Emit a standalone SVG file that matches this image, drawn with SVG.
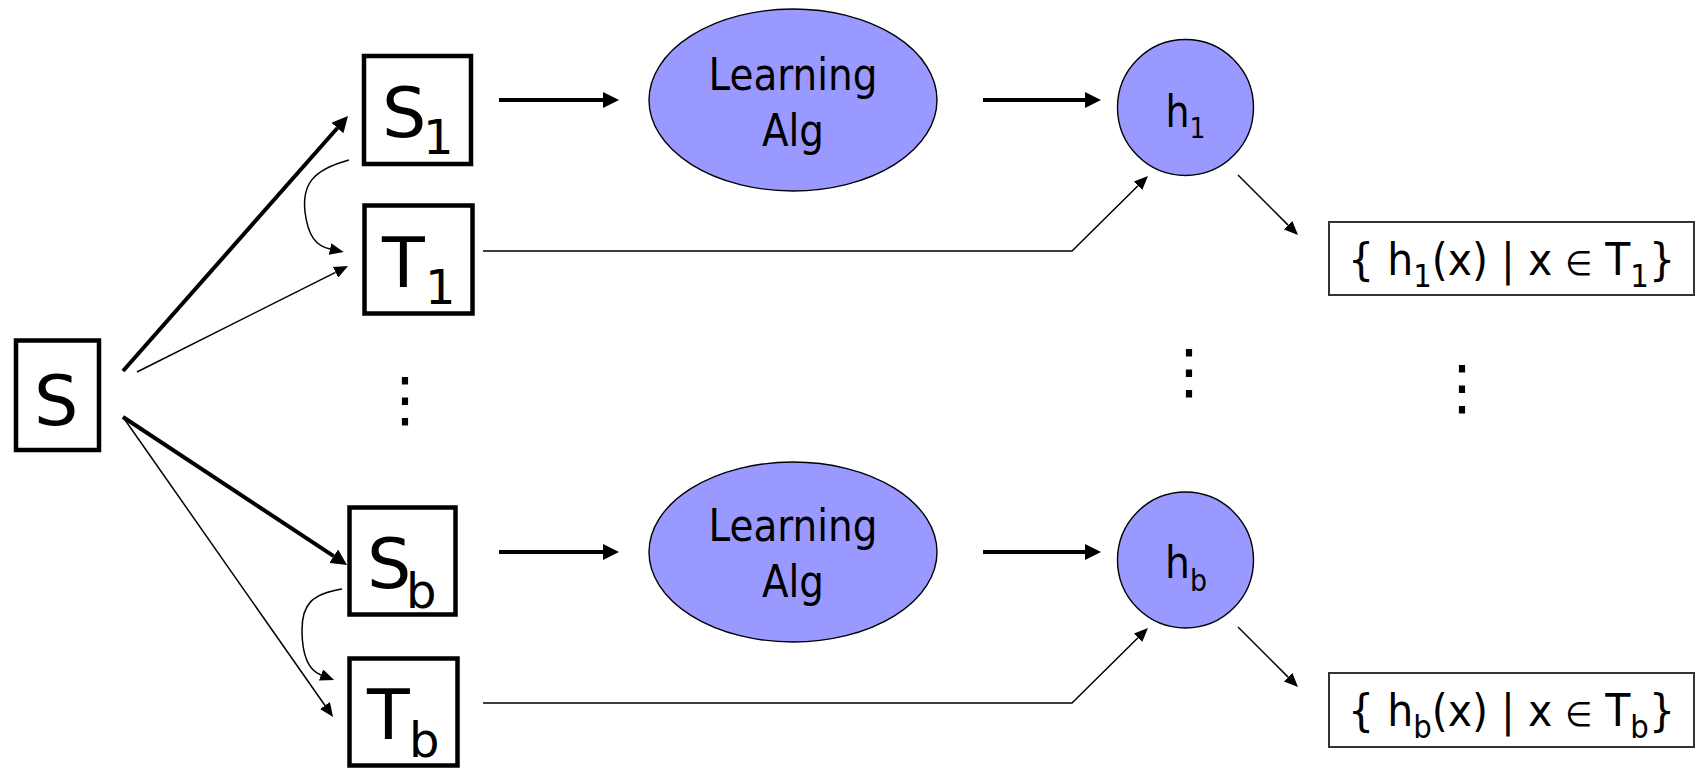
<svg xmlns="http://www.w3.org/2000/svg" width="1706" height="768" viewBox="0 0 1706 768">
<style>
  .box { fill: #fff; stroke: #000; stroke-width: 4.5; }
  .res { fill: #fff; stroke: #333; stroke-width: 2; }
  .blob { fill: #9999ff; stroke: #000; stroke-width: 1.4; }
  .big { font-family: "DejaVu Sans", "Liberation Sans", sans-serif; font-size: 70px; fill: #000; }
  .lbl { font-family: "DejaVu Sans", "Liberation Sans", sans-serif; font-size: 44px; fill: #000; }
  .res-t { font-family: "DejaVu Sans", "Liberation Sans", sans-serif; font-size: 45px; fill: #000; }
  .dots { font-family: "DejaVu Sans", "Liberation Sans", sans-serif; font-size: 60px; fill: #000; }
  .thick { fill: none; stroke: #000; stroke-width: 4; }
  .thin { fill: none; stroke: #000; stroke-width: 1.5; }
</style>
<defs>
  <marker id="hd-thick" viewBox="0 0 16 16" refX="0" refY="8" markerWidth="16" markerHeight="16" markerUnits="userSpaceOnUse" orient="auto">
    <path d="M0,0 L16,8 L0,16 z" fill="#000"/>
  </marker>
  <marker id="hd-thin" viewBox="0 0 14 12" refX="0" refY="6" markerWidth="14" markerHeight="12" markerUnits="userSpaceOnUse" orient="auto">
    <path d="M0,0 L14,6 L0,12 z" fill="#000"/>
  </marker>
</defs>
<rect width="1706" height="768" fill="#fff"/>

<g id="connectors">
  <path class="thick" d="M123,371 L337.4,128" marker-end="url(#hd-thick)"/>
  <path class="thick" d="M123,417 L333.7,556.2" marker-end="url(#hd-thick)"/>
  <path class="thin" d="M137,372 L335.5,272.3" marker-end="url(#hd-thin)"/>
  <path class="thin" d="M123,417 L325,705.5" marker-end="url(#hd-thin)"/>
  <path class="thin" d="M349,160 C312,170 302,185 305,212 C308,236 316,246 330,249" marker-end="url(#hd-thin)"/>
  <path class="thin" d="M342,589 C312,594 302,604 302,630 C302,656 308,670 321,675" marker-end="url(#hd-thin)"/>
  <path class="thick" d="M499,100 L603,100" marker-end="url(#hd-thick)"/>
  <path class="thick" d="M499,552 L603,552" marker-end="url(#hd-thick)"/>
  <path class="thick" d="M983,100 L1085,100" marker-end="url(#hd-thick)"/>
  <path class="thick" d="M983,552 L1085,552" marker-end="url(#hd-thick)"/>
  <path class="thin" d="M483,251 L1072,251 L1138,185.8" marker-end="url(#hd-thin)"/>
  <path class="thin" d="M483,703 L1072,703 L1138,637.8" marker-end="url(#hd-thin)"/>
  <path class="thin" d="M1238,175 L1288.1,225.1" marker-end="url(#hd-thin)"/>
  <path class="thin" d="M1238,627 L1288.1,677.1" marker-end="url(#hd-thin)"/>
</g>

<g id="S">
  <rect class="box" x="16" y="340.5" width="83" height="109.5"/>
  <text class="big" x="34" y="425">S</text>
</g>
<g id="S1">
  <rect class="box" x="364" y="56" width="107" height="108"/>
  <text class="big" x="382" y="137">S<tspan x="423" y="154" font-size="48">1</tspan></text>
</g>
<g id="T1">
  <rect class="box" x="364.5" y="205.5" width="108" height="108"/>
  <text class="big" x="382" y="287">T<tspan x="425" y="304" font-size="48">1</tspan></text>
</g>
<g id="Sb">
  <rect class="box" x="349.5" y="507.5" width="106" height="107"/>
  <text class="big" x="367" y="588">S<tspan x="406" y="608" font-size="48">b</tspan></text>
</g>
<g id="Tb">
  <rect class="box" x="349.5" y="658.5" width="108" height="107"/>
  <text class="big" x="367" y="739">T<tspan x="409" y="757" font-size="48">b</tspan></text>
</g>

<g id="dots-left"><text class="dots" x="405" y="420" text-anchor="middle">⋮</text></g>

<g id="alg1">
  <ellipse class="blob" cx="793" cy="100" rx="144" ry="91"/>
  <text class="lbl" x="793" y="90" text-anchor="middle" textLength="169" lengthAdjust="spacingAndGlyphs">Learning</text>
  <text class="lbl" x="793" y="146" text-anchor="middle" textLength="62" lengthAdjust="spacingAndGlyphs">Alg</text>
</g>
<g id="alg2">
  <ellipse class="blob" cx="793" cy="552" rx="144" ry="90"/>
  <text class="lbl" x="793" y="541" text-anchor="middle" textLength="169" lengthAdjust="spacingAndGlyphs">Learning</text>
  <text class="lbl" x="793" y="597" text-anchor="middle" textLength="62" lengthAdjust="spacingAndGlyphs">Alg</text>
</g>

<g id="h1">
  <ellipse class="blob" cx="1185.5" cy="107.5" rx="68" ry="68"/>
  <text class="lbl" x="1185.5" y="127" font-size="46" text-anchor="middle" textLength="40" lengthAdjust="spacingAndGlyphs">h<tspan dy="11" font-size="29">1</tspan></text>
</g>
<g id="hb">
  <ellipse class="blob" cx="1185.5" cy="560" rx="68" ry="68"/>
  <text class="lbl" x="1186" y="578" font-size="46" text-anchor="middle" textLength="42" lengthAdjust="spacingAndGlyphs">h<tspan dy="13" font-size="30">b</tspan></text>
</g>

<g id="dots-h"><text class="dots" x="1189" y="392" text-anchor="middle">⋮</text></g>
<g id="dots-r"><text class="dots" x="1462" y="408" text-anchor="middle">⋮</text></g>

<g id="r1">
  <rect class="res" x="1329" y="222" width="365" height="73"/>
  <text class="res-t" x="1511.5" y="275" text-anchor="middle" textLength="327" lengthAdjust="spacingAndGlyphs">{ h<tspan dy="12" font-size="32">1</tspan><tspan dy="-12">(x) | x </tspan><tspan font-size="34">∈</tspan><tspan> T</tspan><tspan dy="12" font-size="32">1</tspan><tspan dy="-12">}</tspan></text>
</g>
<g id="rb">
  <rect class="res" x="1329" y="673" width="365" height="74"/>
  <text class="res-t" x="1511.5" y="726" text-anchor="middle" textLength="327" lengthAdjust="spacingAndGlyphs">{ h<tspan dy="12" font-size="32">b</tspan><tspan dy="-12">(x) | x </tspan><tspan font-size="34">∈</tspan><tspan> T</tspan><tspan dy="12" font-size="32">b</tspan><tspan dy="-12">}</tspan></text>
</g>
</svg>
